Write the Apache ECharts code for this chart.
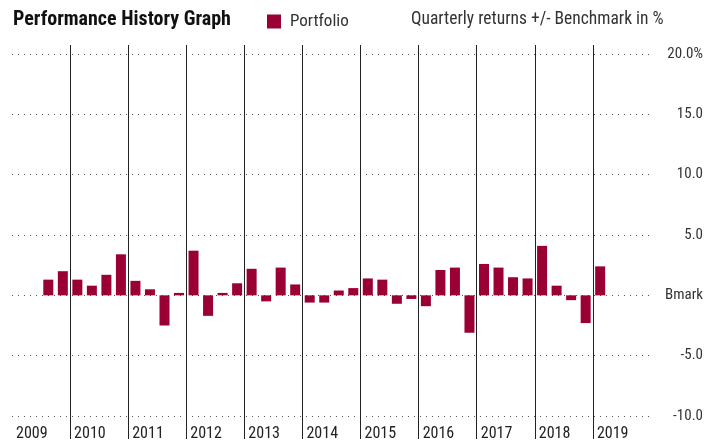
<!DOCTYPE html>
<html lang="en">
<head>
    <meta charset="UTF-8">
    <title>Performance History Graph</title>
    <script src="https://cdn.jsdelivr.net/npm/echarts/dist/echarts.min.js"></script>
    <style>
        body { margin: 0; background: #fff; }
        #chart { width: 719px; height: 445px; }
    </style>
</head>
<body>
    <div id="chart"></div>
    <script>
        // quarters 2009 Q1 .. 2019 Q4
        const years = ['2009', '2010', '2011', '2012', '2013', '2014', '2015', '2016', '2017', '2018', '2019'];
        const quarters = [];
        years.forEach(y => { for (let q = 1; q <= 4; q++) quarters.push(y + ' Q' + q); });

        // quarterly return minus benchmark, %
        const portfolio = [
            null, null, 1.3, 2.0,
            1.3, 0.8, 1.7, 3.4,
            1.2, 0.5, -2.5, 0.2,
            3.7, -1.7, 0.2, 1.0,
            2.2, -0.5, 2.3, 0.9,
            -0.6, -0.6, 0.4, 0.6,
            1.4, 1.3, -0.7, -0.3,
            -0.9, 2.1, 2.3, -3.1,
            2.6, 2.3, 1.5, 1.4,
            4.1, 0.8, -0.4, -2.3,
            2.4, null, null, null
        ];

        const font = "'Roboto Condensed', 'Liberation Sans Narrow', 'DejaVu Sans Condensed', 'Noto Sans', sans-serif";
        const barColor = '#9b0035';

        const chart = echarts.init(document.getElementById('chart'));
        chart.setOption({
            animation: false,
            textStyle: { fontFamily: font },
            title: [
                {
                    text: 'Performance History Graph',
                    left: 8, top: 5,
                    textStyle: { fontFamily: font, fontSize: 20, fontWeight: 'bold', color: '#111' }
                },
                {
                    text: 'Quarterly returns +/- Benchmark in %',
                    left: 406, top: 6,
                    textStyle: { fontFamily: font, fontSize: 17.5, fontWeight: 'normal', color: '#333' }
                }
            ],
            legend: {
                left: 262, top: 8,
                icon: 'rect',
                itemWidth: 14, itemHeight: 14,
                itemGap: 8,
                itemStyle: { color: barColor },
                textStyle: { fontFamily: font, fontSize: 17, color: '#333', padding: [0, 0, 0, 4] },
                data: ['Portfolio']
            },
            grid: [
                { left: 12, right: 68, top: 54, bottom: 29 },
                { left: 12, right: 68, top: 45, bottom: 6 }
            ],
            xAxis: [
                {
                    type: 'category',
                    gridIndex: 0,
                    data: quarters,
                    axisLine: { show: false },
                    axisTick: { show: false },
                    axisLabel: { show: false },
                    splitLine: { show: false }
                },
                {
                    type: 'value',
                    gridIndex: 1,
                    min: 0, max: quarters.length, interval: 4,
                    axisLine: { show: false },
                    axisTick: { show: false },
                    axisLabel: {
                        inside: true,
                        margin: -3,
                        align: 'left',
                        padding: [0, 0, 0, 4],
                        fontSize: 16,
                        color: '#222',
                        showMaxLabel: false,
                        formatter: v => years[v / 4] || ''
                    },
                    splitLine: {
                        show: true,
                        showMinLine: false,
                        showMaxLine: false,
                        lineStyle: { color: '#222', width: 1 }
                    }
                }
            ],
            yAxis: [
                {
                    type: 'value',
                    gridIndex: 0,
                    position: 'right',
                    min: -10, max: 20, interval: 5,
                    axisLine: { show: false },
                    axisTick: { show: false },
                    axisLabel: {
                        align: 'right',
                        margin: 52,
                        fontSize: 15,
                        color: '#333',
                        formatter: v => v === 0 ? 'Bmark' : (v === 20 ? '20.0%' : v.toFixed(1))
                    },
                    splitLine: {
                        show: true,
                        lineStyle: { color: '#555', width: 1, type: [1, 5] }
                    }
                },
                {
                    type: 'value',
                    gridIndex: 1,
                    show: false
                }
            ],
            series: [
                {
                    name: 'Portfolio',
                    type: 'bar',
                    xAxisIndex: 0,
                    yAxisIndex: 0,
                    barWidth: 10,
                    itemStyle: { color: barColor },
                    data: portfolio
                }
            ]
        });
    </script>
</body>
</html>
